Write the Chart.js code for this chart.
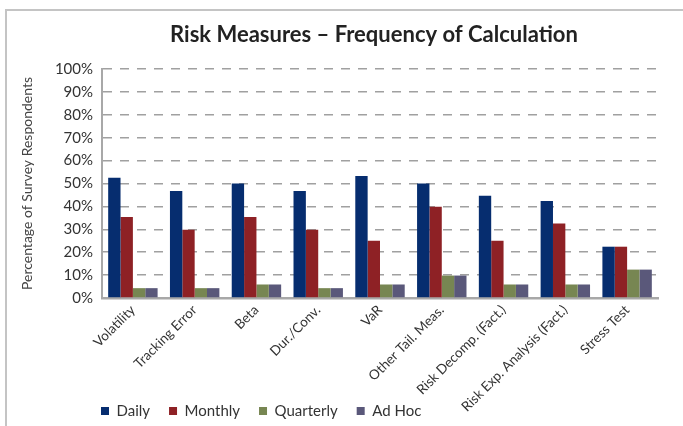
<html>
<head>
    <meta charset="UTF-8">
    <script src="https://cdn.jsdelivr.net/npm/chart.js"></script>
    <title>Risk Measures</title>
    <style>
        body { margin: 0; background: #fff; }
        #frame { position: absolute; left: 5px; top: 9px; width: 680px; height: 420px;
                 border-left: 2px solid #c4c4c4; border-top: 2px solid #c4c4c4; pointer-events: none; }
    </style>
</head>
<body>
    <div style="position: absolute; left: 0; top: 0; width: 683px; height: 426px;"><canvas id="riskChart" width="683" height="426"></canvas></div>
    <div id="frame"></div>
    <script>
        // categories and values (percent of respondents)
        const categories = ['Volatility', 'Tracking Error', 'Beta', 'Dur./Conv.', 'VaR',
            'Other Tail. Meas.', 'Risk Decomp. (Fact.)', 'Risk Exp. Analysis (Fact.)', 'Stress Test'];
        const daily     = [52.5, 46.7, 50.0, 46.7, 53.3, 50.0, 44.6, 42.4, 22.4];
        const monthly   = [35.4, 29.8, 35.4, 29.8, 25.0, 39.8, 25.0, 32.5, 22.4];
        const quarterly = [4.3, 4.3, 5.9, 4.3, 5.9, 9.8, 5.9, 5.9, 12.4];
        const adHoc     = [4.3, 4.3, 5.9, 4.3, 5.9, 9.8, 5.9, 5.9, 12.4];

        const FONT = 'Lato';
        const textColor = '#333';

        // nudges legend / title sideways like the original, and lets the long
        // rotated x labels run past the axis box without being clipped
        const shiftBoxes = {
            id: 'shiftBoxes',
            afterLayout(chart) {
                const lg = chart.legend;
                const dx = 82 - lg.left;
                lg.left += dx; lg.right += dx;
                const t = chart.titleBlock;
                t.left += 38; t.right += 38;
                chart.scales.x.bottom = chart.height;
            }
        };

        const data = {
            labels: categories,
            datasets: [
                { label: 'Daily', data: daily, backgroundColor: '#062d6f' },
                { label: 'Monthly', data: monthly, backgroundColor: '#8e2125' },
                { label: 'Quarterly', data: quarterly, backgroundColor: '#778652' },
                { label: 'Ad Hoc', data: adHoc, backgroundColor: '#5a587a' }
            ]
        };

        const config = {
            type: 'bar',
            data: data,
            plugins: [shiftBoxes],
            options: {
                responsive: false,
                animation: false,
                layout: { padding: { left: 14, right: 25, top: 0, bottom: -2.5 } },
                datasets: { bar: { barPercentage: 1.0, categoryPercentage: 0.8 } },
                plugins: {
                    title: {
                        display: true,
                        text: 'Risk Measures \u2013 Frequency of Calculation',
                        color: '#222',
                        font: { family: FONT, size: 22, weight: 'bold' },
                        padding: { top: 22, bottom: 20.6 }
                    },
                    legend: {
                        position: 'bottom',
                        align: 'start',
                        labels: {
                            boxWidth: 8, boxHeight: 8, padding: 19,
                            color: textColor,
                            font: { family: FONT, size: 15 }
                        }
                    },
                    tooltip: { enabled: false }
                },
                scales: {
                    x: {
                        grid: { display: false, drawTicks: false },
                        border: { color: '#a8a8a8', width: 2.5 },
                        ticks: {
                            color: textColor, font: { family: FONT, size: 13.5 },
                            minRotation: 45, maxRotation: 45, padding: 4
                        },
                        afterFit(scale) { scale.height = 86.5; }
                    },
                    y: {
                        min: 0, max: 100,
                        grid: { color: '#a0a0a0', lineWidth: 1.5, drawTicks: false },
                        border: { color: '#a8a8a8', width: 2, dash: [9, 8] },
                        ticks: {
                            stepSize: 10, padding: 9,
                            color: textColor, font: { family: FONT, size: 15 },
                            callback: v => v + '%'
                        },
                        title: {
                            display: true,
                            text: 'Percentage of Survey Respondents',
                            color: '#444',
                            font: { family: FONT, size: 14 },
                            padding: { top: 5, bottom: 0 }
                        },
                        afterFit(scale) { scale.width = 88; }
                    }
                }
            }
        };

        const myChart = new Chart(document.getElementById('riskChart'), config);
    </script>
</body>
</html>
